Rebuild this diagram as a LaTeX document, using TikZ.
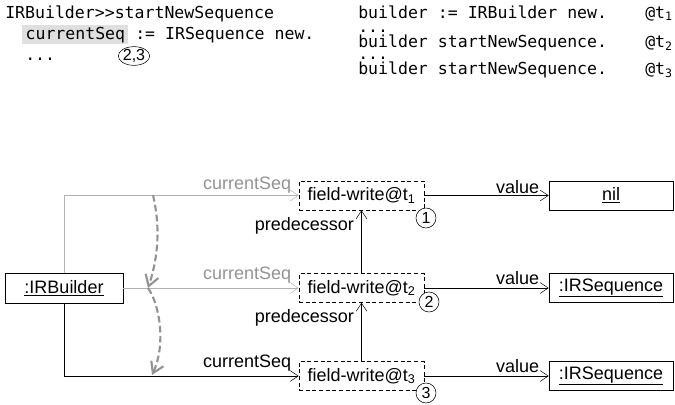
\documentclass[tikz,border=0pt]{standalone}
\usepackage{fontspec}
\setmainfont{Liberation Sans}
\setmonofont{DejaVu Sans Mono}
\usetikzlibrary{arrows.meta,shapes.geometric}
\begin{document}
\begin{tikzpicture}[x=0.75pt,y=-0.75pt,
  font=\fontsize{13.5}{15}\selectfont,
  code/.style={anchor=base west,inner sep=0pt,font=\ttfamily\fontsize{12.4}{14}\selectfont},
  obj/.style={draw,minimum width=88.5pt,minimum height=22.5pt,inner sep=0pt},
  event/.style={draw,densely dashed,minimum width=93.75pt,minimum height=21.75pt,inner sep=0pt},
  nr/.style={draw,circle,fill=white,inner sep=0pt,minimum size=15pt,font=\fontsize{12}{12}\selectfont},
  link/.style={-{Straight Barb[length=6pt,width=8pt]}},
  old/.style={gray!60},
  oldtext/.style={gray!85},
  lbl/.style={anchor=south east,inner sep=1.5pt},
  time/.style={gray!85,line width=1.6pt,dash pattern=on 5pt off 2.5pt,-{Straight Barb[length=8pt,width=10pt]}}]

\useasboundingbox (0,0) rectangle (675,404);

% Methode
\node[code] (l1) at (5,18) {IRBuilder>{}>startNewSequence};
\node[code,fill=gray!25,inner xsep=2.5pt,inner ysep=1.5pt] (seq) at (22,39) {currentSeq};
\node[code] (l2) at (135,39) {:= IRSequence new.};
\node[code] (l3) at (25,60) {...};
\node[draw,ellipse,inner sep=0pt,font=\fontsize{12}{12}\selectfont] (c23) at (134,56) {2,3};

% Ablauf
\node[code] (r1) at (358,18) {builder := IRBuilder new.};
\node[code] (r2) at (358,32.5) {...};
\node[code] (r3) at (358,47) {builder startNewSequence.};
\node[code] (r4) at (358,59.5) {...};
\node[code] (r5) at (358,74) {builder startNewSequence.};
\node[code] (at1) at (645,18) {@t\textsubscript{1}};
\node[code] (at2) at (645,47) {@t\textsubscript{2}};
\node[code] (at3) at (645,74) {@t\textsubscript{3}};

% Objekte
\node[obj] (b) at (64,288) {\underline{:IRBuilder}};
\node[event] (fw1) at (361.5,195.5) {field-write@t\textsubscript{1}};
\node[event] (fw2) at (361.5,288) {field-write@t\textsubscript{2}};
\node[event] (fw3) at (361.5,376) {field-write@t\textsubscript{3}};
\node[obj,minimum width=93pt,minimum height=21.75pt] (v1) at (611,195.5) {\underline{nil}};
\node[obj,minimum width=93pt,minimum height=21.75pt] (v2) at (611,288) {\underline{:IRSequence}};
\node[obj,minimum width=93pt,minimum height=21.75pt] (v3) at (611,376) {\underline{:IRSequence}};

% Feld-Zuweisungen
\draw[link,old] (b.north) |- (fw1.west);
\draw[link,old] (b.east) -- (fw2.west);
\draw[link] (b.south) |- (fw3.west);
\node[lbl,oldtext] (s1) at ([xshift=-4pt]fw1.west) {currentSeq};
\node[lbl,oldtext] (s2) at ([xshift=-4pt,yshift=2pt]fw2.west) {currentSeq};
\node[lbl] (s3) at ([xshift=-4pt,yshift=2pt]fw3.west) {currentSeq};

% Werte
\draw[link] (fw1.east) -- (v1.west);
\draw[link] (fw2.east) -- (v2.west);
\draw[link] (fw3.east) -- (v3.west);
\node[lbl] (w1) at ([xshift=-5.5pt]v1.west) {value};
\node[lbl] (w2) at ([xshift=-5.5pt,yshift=1pt]v2.west) {value};
\node[lbl] (w3) at ([xshift=-5.5pt,yshift=1pt]v3.west) {value};

% Vorgaenger
\draw[link] (fw2.north) -- node[pos=0.75,left=5.5pt,inner sep=0pt] (p1) {predecessor} (fw1.south);
\draw[link] (fw3.north) -- node[pos=0.75,left=5.5pt,inner sep=0pt] (p2) {predecessor} (fw2.south);

\node[nr] (n1) at (426,218) {1};
\node[nr] (n2) at (429,302) {2};
\node[nr] (n3) at (426,393) {3};

% Zeit
\coordinate (ta) at (153,195);
\coordinate (tb) at (148,288);
\coordinate (tc) at (152,375);
\draw[time] (ta) .. controls (160,225) and (159,255) .. (tb);
\draw[time] (tb) .. controls (160,305) and (166,345) .. (tc);
\end{tikzpicture}
\end{document}
